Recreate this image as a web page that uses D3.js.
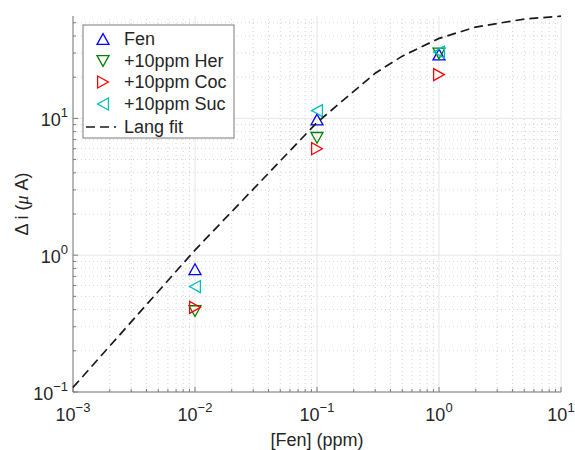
<!DOCTYPE html>
<html>
<head>
<meta charset="utf-8">
<script src="https://cdn.jsdelivr.net/npm/d3@7"></script>
<style>
  body { margin: 0; background: #fff; }
  text { font-family: "Liberation Sans", Arial, sans-serif; fill: #262626; }
</style>
</head>
<body>
<svg id="chart" width="575" height="450"></svg>
<script>
// data
const conc = [0.01, 0.1, 1];
const fen = [0.79, 9.8, 29.3];
const her = [0.39, 7.2, 29.8];
const coc = [0.415, 6.0, 20.9];
const suc = [0.59, 11.4, 30.5];
const fitX = [0.001, 0.01, 0.1, 0.3, 0.5, 1, 2, 5, 10];
const fitY = [0.108, 1.09, 9.33, 21.4, 28.5, 38.4, 46.5, 53.2, 55.8];
const xExps = [-3, -2, -1, 0, 1];
const yExps = [-1, 0, 1];
const seriesNames = ["Fen", "+10ppm Her", "+10ppm Coc", "+10ppm Suc"];

const series = [
  { name: seriesNames[0], values: fen, color: "#0000ff", shape: "up" },
  { name: seriesNames[1], values: her, color: "#008000", shape: "down" },
  { name: seriesNames[2], values: coc, color: "#ff0000", shape: "right" },
  { name: seriesNames[3], values: suc, color: "#00bfbf", shape: "left" }
];

const svg = d3.select("#chart");
const margin = { top: 16, right: 14, bottom: 58, left: 73 };
const W = 575, H = 450;

const x = d3.scaleLog().domain([1e-3, 10]).range([margin.left, W - margin.right]);
const y = d3.scaleLog().domain([0.1, 56]).range([H - margin.bottom, margin.top]);

const x0 = x.range()[0], x1 = x.range()[1];
const yb = y.range()[0], yt = y.range()[1];

// minor values inside domain
const minors = (exps, dom) => {
  const out = [];
  for (let e = exps[0] - 1; e <= exps[exps.length - 1]; e++)
    for (let m = 2; m <= 9; m++) {
      const v = m * Math.pow(10, e);
      if (v > dom[0] && v < dom[1]) out.push(v);
    }
  return out;
};
const xMinor = minors(xExps, x.domain());
const yMinor = minors(yExps, y.domain());
const xMajor = xExps.map(e => Math.pow(10, e));
const yMajor = yExps.map(e => Math.pow(10, e));

const grid = svg.append("g");
grid.selectAll(".xmin").data(xMinor).join("line")
  .attr("x1", d => x(d)).attr("x2", d => x(d)).attr("y1", yb).attr("y2", yt)
  .attr("stroke", "#d4d4d4").attr("stroke-width", 1).attr("stroke-dasharray", "1,3");
grid.selectAll(".ymin").data(yMinor).join("line")
  .attr("y1", d => y(d)).attr("y2", d => y(d)).attr("x1", x0).attr("x2", x1)
  .attr("stroke", "#d4d4d4").attr("stroke-width", 1).attr("stroke-dasharray", "1,3");
grid.selectAll(".xmaj").data(xMajor).join("line")
  .attr("x1", d => x(d)).attr("x2", d => x(d)).attr("y1", yb).attr("y2", yt)
  .attr("stroke", "#e6e6e6").attr("stroke-width", 1);
grid.selectAll(".ymaj").data(yMajor).join("line")
  .attr("y1", d => y(d)).attr("y2", d => y(d)).attr("x1", x0).attr("x2", x1)
  .attr("stroke", "#e6e6e6").attr("stroke-width", 1);

// axes lines (left + bottom only)
const axisColor = "#7a7a7a";
svg.append("line").attr("x1", x0).attr("x2", x0).attr("y1", yb).attr("y2", yt)
  .attr("stroke", axisColor).attr("stroke-width", 1);
svg.append("line").attr("x1", x0).attr("x2", x1).attr("y1", yb).attr("y2", yb)
  .attr("stroke", axisColor).attr("stroke-width", 1);

// inward ticks
svg.append("g").selectAll("line").data(xMajor).join("line")
  .attr("x1", d => x(d)).attr("x2", d => x(d)).attr("y1", yb).attr("y2", yb - 5)
  .attr("stroke", axisColor);
svg.append("g").selectAll("line").data(xMinor).join("line")
  .attr("x1", d => x(d)).attr("x2", d => x(d)).attr("y1", yb).attr("y2", yb - 3)
  .attr("stroke", axisColor);
svg.append("g").selectAll("line").data(yMajor).join("line")
  .attr("y1", d => y(d)).attr("y2", d => y(d)).attr("x1", x0).attr("x2", x0 + 5)
  .attr("stroke", axisColor);
svg.append("g").selectAll("line").data(yMinor).join("line")
  .attr("y1", d => y(d)).attr("y2", d => y(d)).attr("x1", x0).attr("x2", x0 + 3)
  .attr("stroke", axisColor);

// tick labels 10^n
const xl = svg.append("g").selectAll("text").data(xExps).join("text")
  .attr("x", d => x(Math.pow(10, d))).attr("y", yb + 29)
  .attr("text-anchor", "middle").attr("font-size", 18);
xl.append("tspan").text("10");
xl.append("tspan").attr("dy", -9).attr("font-size", 13).text(d => String(d).replace("-", "\u2212"));

const yl = svg.append("g").selectAll("text").data(yExps).join("text")
  .attr("x", x0 - 5).attr("y", d => y(Math.pow(10, d)) + 8)
  .attr("text-anchor", "end").attr("font-size", 18);
yl.append("tspan").text("10");
yl.append("tspan").attr("dy", -9).attr("font-size", 13).text(d => String(d).replace("-", "\u2212"));

// axis titles
svg.append("text").attr("x", (x0 + x1) / 2).attr("y", 446)
  .attr("text-anchor", "middle").attr("font-size", 18).text("[Fen] (ppm)");
const yt2 = svg.append("text")
  .attr("transform", `translate(28,${(yb + yt) / 2}) rotate(-90)`)
  .attr("text-anchor", "middle").attr("font-size", 18);
yt2.append("tspan").text("Δ i (");
yt2.append("tspan").attr("font-style", "italic").attr("font-family", "'Liberation Serif', serif").text("μ");
yt2.append("tspan").text(" A)");

// triangle markers
function tri(shape, s) {
  const h = s * 0.9;
  if (shape === "up") return `M${-s/2},${h/2}L${s/2},${h/2}L0,${-h/2}Z`;
  if (shape === "down") return `M${-s/2},${-h/2}L${s/2},${-h/2}L0,${h/2}Z`;
  if (shape === "right") return `M${-h/2},${-s/2}L${-h/2},${s/2}L${h/2},0Z`;
  return `M${h/2},${-s/2}L${h/2},${s/2}L${-h/2},0Z`;
}

const plot = svg.append("g");
series.forEach(s => {
  plot.append("g").selectAll("path").data(conc.map((c, i) => [c, s.values[i]])).join("path")
    .attr("transform", d => `translate(${x(d[0])},${y(d[1])})`)
    .attr("d", tri(s.shape, 12))
    .attr("fill", "none").attr("stroke", s.color).attr("stroke-width", 1.3);
});

// Langmuir fit
const line = d3.line().x(d => x(d[0])).y(d => y(d[1]));
plot.append("path").datum(fitX.map((v, i) => [v, fitY[i]]))
  .attr("d", line).attr("fill", "none").attr("stroke", "#1a1a1a")
  .attr("stroke-width", 1.7).attr("stroke-dasharray", "9,5");

// legend
const lg = svg.append("g");
lg.append("rect").attr("x", 83).attr("y", 25).attr("width", 151).attr("height", 113)
  .attr("fill", "#fff").attr("stroke", "#7a7a7a").attr("stroke-width", 1);
const rowY = [39, 61, 82, 104, 127];
series.forEach((s, i) => {
  lg.append("path").attr("transform", `translate(103,${rowY[i]})`)
    .attr("d", tri(s.shape, 12)).attr("fill", "none")
    .attr("stroke", s.color).attr("stroke-width", 1.3);
  lg.append("text").attr("x", 124).attr("y", rowY[i] + 6).attr("font-size", 18)
    .attr("fill", "#000").text(s.name);
});
lg.append("line").attr("x1", 86).attr("x2", 116).attr("y1", rowY[4]).attr("y2", rowY[4])
  .attr("stroke", "#1a1a1a").attr("stroke-width", 1.7).attr("stroke-dasharray", "9,5");
lg.append("text").attr("x", 124).attr("y", rowY[4] + 6).attr("font-size", 18)
  .attr("fill", "#000").text("Lang fit");
</script>
</body>
</html>
